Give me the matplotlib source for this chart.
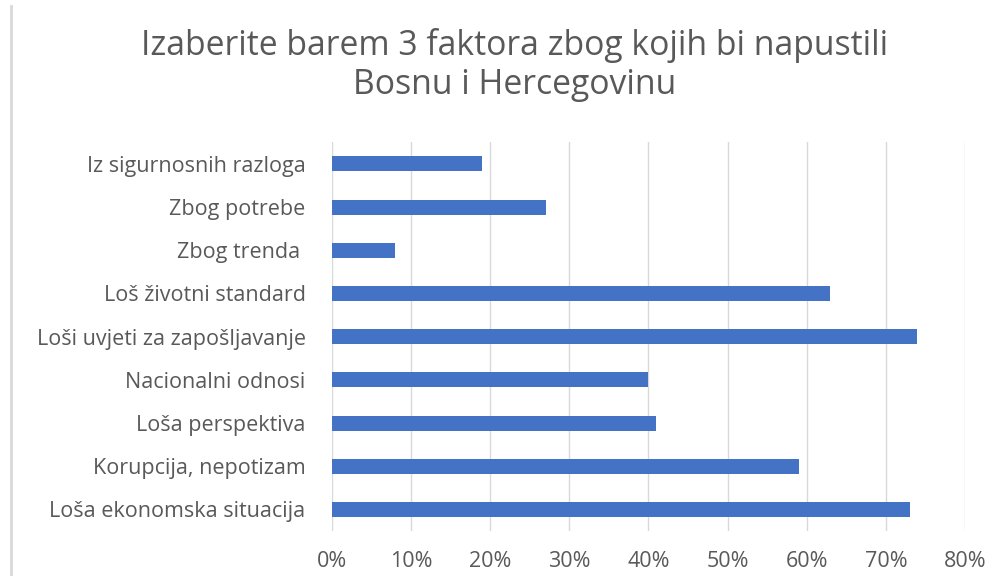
import matplotlib.pyplot as plt
from matplotlib.lines import Line2D
from matplotlib.ticker import PercentFormatter

plt.rcParams['font.family'] = ['Open Sans', 'DejaVu Sans']

# survey answers, bottom bar first
factors = [
    'Loša ekonomska situacija',
    'Korupcija, nepotizam',
    'Loša perspektiva',
    'Nacionalni odnosi',
    'Loši uvjeti za zapošljavanje',
    'Loš životni standard',
    'Zbog trenda ',
    'Zbog potrebe',
    'Iz sigurnosnih razloga',
]
shares = [73, 59, 41, 40, 74, 63, 8, 27, 19]  # percent of respondents

text_grey = '#595959'
bar_blue = '#4472C4'

fig = plt.figure(figsize=(9.89, 5.76), dpi=100)
ax = fig.add_axes([0.3357, 0.078, 0.6400, 0.675])

ax.barh(range(len(factors)), shares, height=0.35, color=bar_blue, zorder=3)

ax.set_xlim(0, 80)
ax.set_ylim(-0.5, len(factors) - 0.5)
ax.set_xticks(range(0, 81, 10))
ax.xaxis.set_major_formatter(PercentFormatter(decimals=0))
ax.set_yticks(range(len(factors)))
ax.set_yticklabels(factors)

ax.grid(axis='x', color='#d9d9d9', linewidth=1, zorder=0)
for side in ax.spines.values():
    side.set_visible(False)
ax.tick_params(axis='both', length=0, labelcolor=text_grey, labelsize=15.5)
ax.tick_params(axis='x', pad=14)
ax.tick_params(axis='y', pad=19)

fig.text(0.52, 0.887, 'Izaberite barem 3 faktora zbog kojih bi napustili\nBosnu i Hercegovinu',
         ha='center', va='center', fontsize=24.3, color=text_grey, linespacing=1.2)

# thin frame edge on the left
fig.add_artist(Line2D([0.0107, 0.0107], [0, 0.99], color='#d9d9d9', linewidth=2))

fig.savefig('out.png', dpi=100)
